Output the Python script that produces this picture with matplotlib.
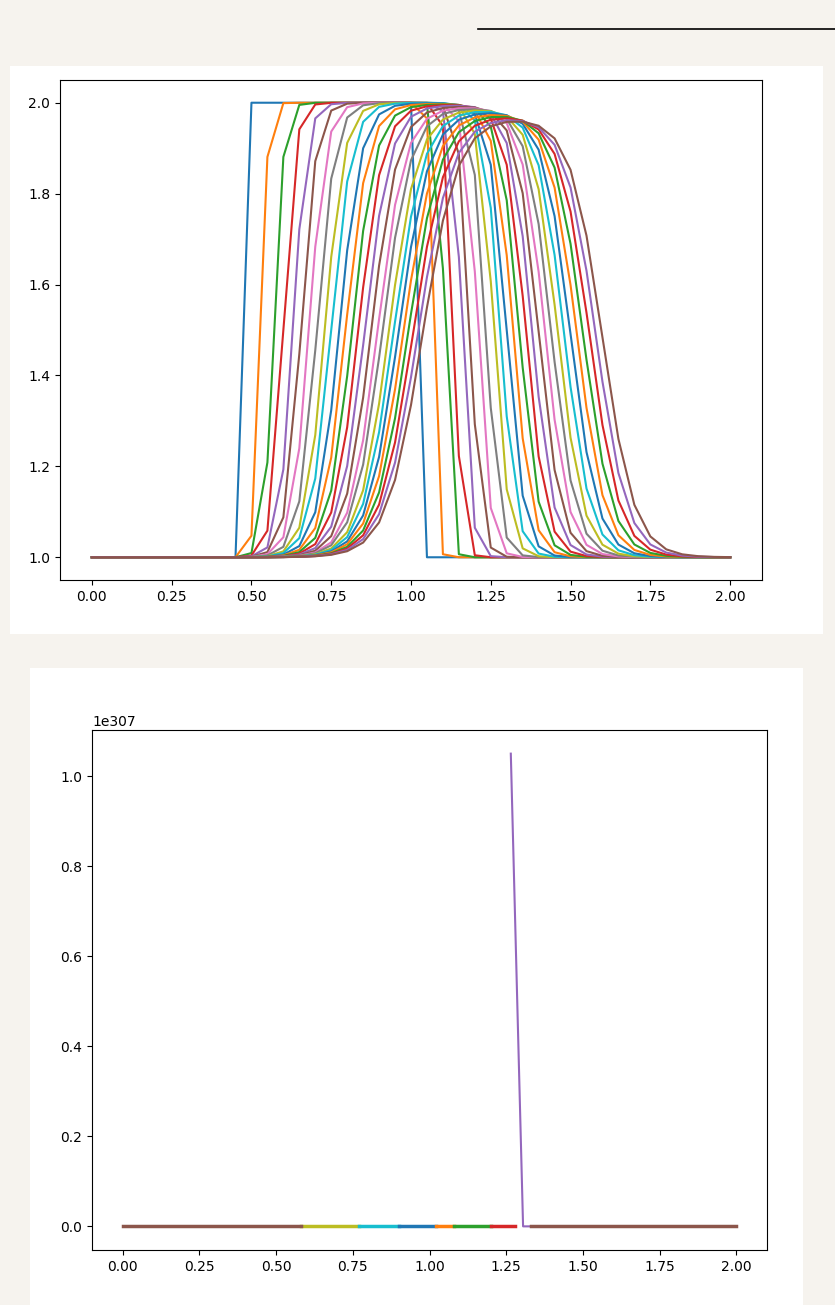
import numpy as np
import matplotlib
matplotlib.use("Agg")
import matplotlib.pyplot as plt
from matplotlib.patches import Rectangle
from matplotlib.lines import Line2D

# ---- top chart data (per-curve front positions) ----
x_grid = np.linspace(0, 2, 41)
rise_mid = [0.475, 0.53, 0.57, 0.60, 0.63, 0.655, 0.68, 0.705, 0.73, 0.75, 0.775, 0.795, 0.815,
            0.835, 0.855, 0.875, 0.895, 0.91, 0.93, 0.945, 0.96, 0.975, 0.99, 1.005, 1.02, 1.035]
rise_w = [0.004, 0.02, 0.03, 0.036, 0.042, 0.047, 0.052, 0.056, 0.06, 0.064, 0.068, 0.071,
          0.074, 0.077, 0.08, 0.083, 0.086, 0.089, 0.092, 0.095, 0.097, 0.1, 0.102, 0.105, 0.108, 0.11]
fall_mid = [1.025, 1.07, 1.105, 1.135, 1.16, 1.185, 1.21, 1.235, 1.26, 1.28, 1.30, 1.32,
            1.34, 1.36, 1.38, 1.40, 1.42, 1.44, 1.46, 1.48, 1.50, 1.52, 1.54, 1.56, 1.58, 1.60]
fall_w = [0.004, 0.012, 0.018, 0.024, 0.03, 0.034, 0.038, 0.042, 0.046, 0.05, 0.054, 0.058,
          0.061, 0.064, 0.067, 0.07, 0.073, 0.076, 0.079, 0.082, 0.085, 0.088, 0.091, 0.094, 0.097, 0.10]
peak = [2.0, 2.0, 2.0, 2.0, 2.0, 2.0, 2.0, 2.0, 2.0, 2.0, 1.999, 1.998, 1.997, 1.996, 1.995,
        1.993, 1.991, 1.989, 1.987, 1.985, 1.982, 1.979, 1.976, 1.973, 1.97, 1.968]

# ---- bottom chart data ----
seg_colors = ["C8", "C9", "C0", "C1", "C2", "C3"]
seg_start = [0.58, 0.77, 0.90, 1.02, 1.08, 1.20]
seg_end = [0.77, 0.90, 1.02, 1.08, 1.20, 1.28]
spike_x = [1.265, 1.305, 1.34]
spike_y = [1.05e307, 0.0, 0.0]
brown_x = [[0.0, 0.58], [1.33, 2.0]]

W, H = 835, 1305
fig = plt.figure(figsize=(W / 100, H / 100), dpi=100)
fig.patch.set_facecolor("#f6f3ee")
fig.add_artist(Rectangle((10 / W, 1 - 634 / H), 813 / W, 568 / H, transform=fig.transFigure,
                         facecolor="white", edgecolor="none", zorder=0))
fig.add_artist(Rectangle((30 / W, 0), 773 / W, 637 / H, transform=fig.transFigure,
                         facecolor="white", edgecolor="none", zorder=0))
fig.add_artist(Line2D([478 / W, 1], [1 - 29 / H] * 2, transform=fig.transFigure, color="black", lw=1.2))

ax1 = fig.add_axes([60 / W, 1 - 580 / H, 702 / W, 500 / H])
for i in range(len(rise_mid)):
    amp = peak[i] - 1.0
    r = 0.5 * (1 + np.tanh((x_grid - rise_mid[i]) / rise_w[i]))
    f = 0.5 * (1 - np.tanh((x_grid - fall_mid[i]) / fall_w[i]))
    y = 1.0 + amp * r * f
    y[x_grid <= 0.451] = 1.0
    ax1.plot(x_grid, y, lw=1.5)

ax2 = fig.add_axes([92 / W, 1 - 1250 / H, 675 / W, 520 / H])
for c, s, e in zip(seg_colors, seg_start, seg_end):
    ax2.plot([s, e], [0, 0], color=c, lw=2.5)
ax2.plot(spike_x, spike_y, color="C4", lw=1.5)
ax2.plot(brown_x[0], [0, 0], color="C5", lw=2.5)
ax2.plot(brown_x[1], [0, 0], color="C5", lw=2.5)
ax2.set_xlim(-0.1, 2.1)
ax2.set_ylim(-0.0525e307, 1.1025e307)
ax2.set_xticks([0, 0.25, 0.5, 0.75, 1.0, 1.25, 1.5, 1.75, 2.0])

fig.savefig("out.png", dpi=100, facecolor=fig.get_facecolor())
